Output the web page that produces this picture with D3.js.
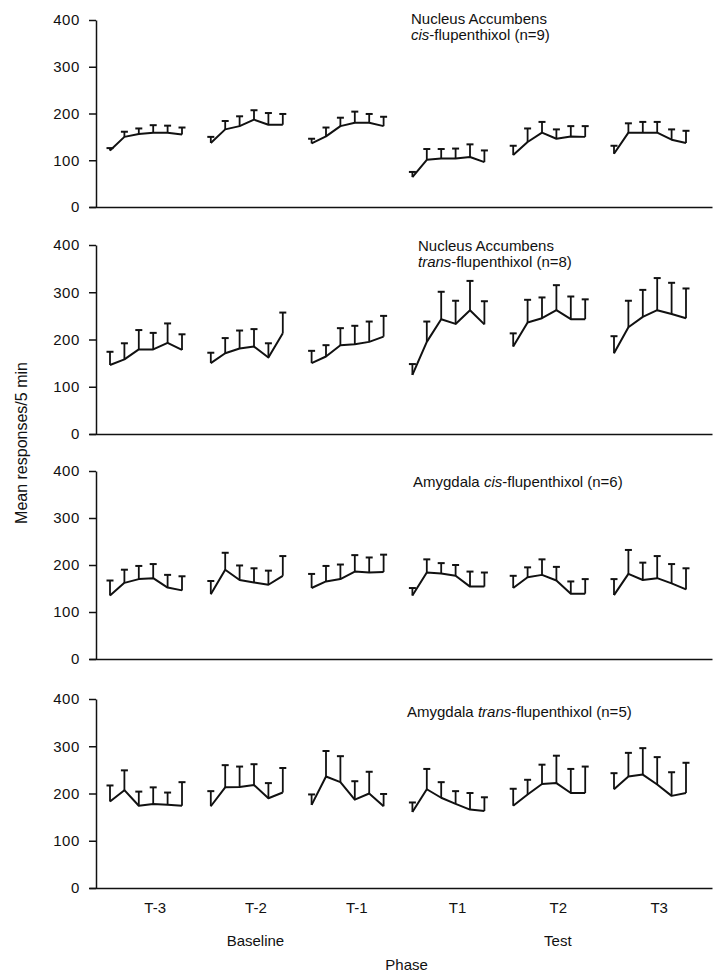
<!DOCTYPE html>
<html><head><meta charset="utf-8">
<script src="https://cdn.jsdelivr.net/npm/d3@7"></script>
<style>
body{margin:0;background:#fff}
svg text{font-family:"Liberation Sans",Arial,Helvetica,sans-serif;fill:#111}
</style>
</head><body>
<svg id="c" width="719" height="972"></svg>
<script>
// ---------- DATA ----------
const phases = ["T-3", "T-2", "T-1", "T1", "T2", "T3"];
const phaseGroups = ["Baseline", "Test"];
const yTicks = [0, 100, 200, 300, 400];

// Mean responses / 5 min (6 bins per phase) and upper error (cap value)
const nacCisMean = [[121,150,156,159,159,155],[137,166,173,187,176,176],[136,151,173,180,180,173],[64,101,104,104,107,96],[111,139,159,146,151,150],[114,159,159,159,144,137]];
const nacCisCap  = [[126,161,168,175,174,170],[150,184,194,207,201,199],[146,170,191,204,199,193],[75,124,124,125,134,121],[131,168,182,166,173,173],[131,179,182,182,166,163]];

const nacTransMean = [[146,158,179,179,193,178],[150,171,181,185,162,213],[150,164,188,190,195,206],[125,195,243,233,262,232],[185,236,245,262,243,243],[171,226,248,262,254,245]];
const nacTransCap  = [[174,192,220,214,234,211],[172,203,219,222,192,257],[176,188,224,229,238,250],[148,238,301,282,324,281],[213,284,289,315,291,285],[207,282,305,330,320,308]];

const amyCisMean = [[135,162,170,172,152,146],[138,190,168,163,158,177],[151,165,170,186,184,185],[135,184,182,177,154,154],[151,174,179,167,139,139],[136,181,168,172,161,148]];
const amyCisCap  = [[167,190,198,202,179,176],[166,226,199,193,188,219],[181,198,201,221,216,222],[151,212,204,200,186,184],[177,195,212,196,165,170],[170,232,205,219,202,193]];

const amyTransMean = [[183,207,174,178,176,174],[173,213,214,218,190,202],[176,236,224,187,200,173],[161,209,191,178,166,163],[174,198,220,222,201,201],[209,236,240,219,195,201]];
const amyTransCap  = [[217,249,204,213,202,224],[205,260,257,262,222,254],[198,290,279,226,246,199],[181,252,224,205,201,192],[210,229,261,280,252,257],[243,286,296,277,245,265]];

// title segments: [text, italic?]
const titleNacCis   = [[["Nucleus Accumbens", false]], [["cis", true], ["-flupenthixol (n=9)", false]]];
const titleNacTrans = [[["Nucleus Accumbens", false]], [["trans", true], ["-flupenthixol (n=8)", false]]];
const titleAmyCis   = [[["Amygdala ", false], ["cis", true], ["-flupenthixol (n=6)", false]]];
const titleAmyTrans = [[["Amygdala ", false], ["trans", true], ["-flupenthixol (n=5)", false]]];

const yLabel = "Mean responses/5 min";
const xLabel = "Phase";

// ---------- LAYOUT ----------
const panels = [
  {mean: nacCisMean,   cap: nacCisCap,   title: titleNacCis,   y0: 207, y1: 20,  tx: 411, ty: 24},
  {mean: nacTransMean, cap: nacTransCap, title: titleNacTrans, y0: 434, y1: 245, tx: 418, ty: 251},
  {mean: amyCisMean,   cap: amyCisCap,   title: titleAmyCis,   y0: 659, y1: 471, tx: 413, ty: 487},
  {mean: amyTransMean, cap: amyTransCap, title: titleAmyTrans, y0: 888, y1: 699, tx: 407, ty: 717}
];

const svg = d3.select("#c");
const binsPer = 6, groupStep = 7;
const x = d3.scaleLinear().domain([0, 5 * groupStep + binsPer - 1]).range([110, 686]);
const axisX = 96;
const FS = 15;

panels.forEach((p, pi) => {
  const y = d3.scaleLinear().domain([0, 400]).range([p.y0, p.y1]);
  const g = svg.append("g");

  // y axis
  const ya = g.append("g").attr("transform", `translate(${axisX},0)`)
    .call(d3.axisLeft(y).tickValues(yTicks).tickSize(7).tickSizeOuter(0).tickPadding(9));
  ya.selectAll("path,line").attr("stroke", "#111").attr("stroke-width", 1.5);
  ya.selectAll("text").style("font-size", FS + "px").style("letter-spacing", "0.6px")
    .attr("fill", "#111").style("font-family", '"Liberation Sans",Arial,sans-serif');

  // x axis line
  const xa = g.append("g").attr("transform", `translate(0,${p.y0})`)
    .call(d3.axisBottom(d3.scaleLinear().domain([0, 1]).range([89, 712])).tickValues([]).tickSizeOuter(0));
  xa.selectAll("path").attr("stroke", "#111").attr("stroke-width", 1.5);

  // series per phase
  p.mean.forEach((arr, gi) => {
    const pts = arr.map((v, i) => ({xi: gi * groupStep + i, v, c: p.cap[gi][i]}));
    g.append("path").datum(pts)
      .attr("fill", "none").attr("stroke", "#111").attr("stroke-width", 2)
      .attr("stroke-linejoin", "round")
      .attr("d", d3.line().x(d => x(d.xi)).y(d => y(d.v)));
    const eb = g.selectAll(null).data(pts).enter().append("g");
    eb.append("line").attr("x1", d => x(d.xi)).attr("x2", d => x(d.xi))
      .attr("y1", d => y(d.v)).attr("y2", d => y(d.c))
      .attr("stroke", "#111").attr("stroke-width", 1.8);
    eb.append("line").attr("x1", d => x(d.xi) - 3.5).attr("x2", d => x(d.xi) + 3.5)
      .attr("y1", d => y(d.c)).attr("y2", d => y(d.c))
      .attr("stroke", "#111").attr("stroke-width", 2);
  });

  // title
  p.title.forEach((line, li) => {
    const t = g.append("text").attr("x", p.tx).attr("y", p.ty + li * 16)
      .style("font-size", FS + "px");
    line.forEach(seg => {
      t.append("tspan").text(seg[0]).style("font-style", seg[1] ? "italic" : "normal");
    });
  });

  // bottom panel: phase labels
  if (pi === panels.length - 1) {
    const xt = g.append("g").attr("transform", `translate(0,${p.y0})`)
      .call(d3.axisBottom(x).tickValues(phases.map((d, i) => i * groupStep + 3.1))
        .tickFormat((d, i) => phases[i]).tickSize(0).tickPadding(14));
    xt.select(".domain").remove();
    xt.selectAll("text").style("font-size", FS + "px").attr("fill", "#111")
      .style("font-family", '"Liberation Sans",Arial,sans-serif');

    phaseGroups.forEach((lab, i) => {
      svg.append("text").attr("x", x((1 + i * 3) * groupStep + 3.1)).attr("y", 946)
        .attr("text-anchor", "middle").style("font-size", FS + "px").text(lab);
    });
    svg.append("text").attr("x", x((2 * groupStep + 3.1 + 3 * groupStep + 3.1) / 2)).attr("y", 970)
      .attr("text-anchor", "middle").style("font-size", FS + "px").text(xLabel);
  }
});

svg.append("text").attr("transform", "translate(27,443) rotate(-90)")
  .attr("text-anchor", "middle").style("font-size", "16px").text(yLabel);
</script>
</body></html>
